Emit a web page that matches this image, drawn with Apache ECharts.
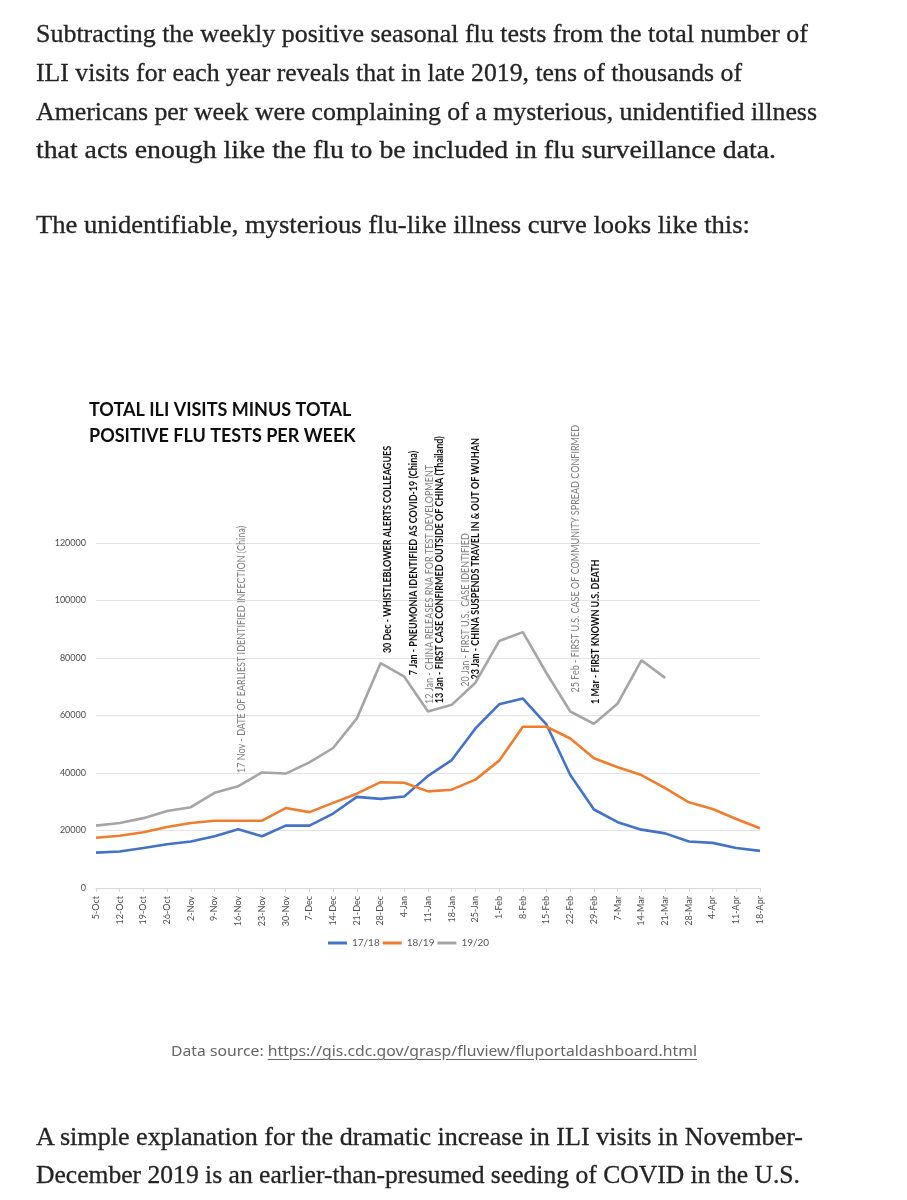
<!DOCTYPE html>
<html>
<head>
<meta charset="utf-8">
<script src="https://cdn.jsdelivr.net/npm/echarts@6/dist/echarts.min.js"></script>
<style>
  html, body { margin: 0; padding: 0; background: #ffffff; }
  #page { position: relative; width: 907px; height: 1200px; overflow: hidden; background: #fff; }
  #chart { position: absolute; left: 0; top: 0; width: 907px; height: 1200px; }
  .line { position: absolute; white-space: nowrap; line-height: 1; transform-origin: 0 0; }
  .prose { font-family: "Liberation Serif", serif; font-size: 25px; color: #242424; -webkit-text-stroke: 0.3px #242424; }
  .cap { font-family: "Noto Sans", "Open Sans", sans-serif; font-size: 15px; color: #666666; }
  .cap a { color: #666666; text-decoration: underline; text-underline-offset: 3px; }
</style>
</head>
<body>
<div id="page">
  <div id="chart"></div>
</div>
<script>
// ---- data ----
const categories = ['5-Oct','12-Oct','19-Oct','26-Oct','2-Nov','9-Nov','16-Nov','23-Nov','30-Nov','7-Dec','14-Dec','21-Dec','28-Dec','4-Jan','11-Jan','18-Jan','25-Jan','1-Feb','8-Feb','15-Feb','22-Feb','29-Feb','7-Mar','14-Mar','21-Mar','28-Mar','4-Apr','11-Apr','18-Apr'];
const s1718 = [12300,12700,13900,15200,16200,18000,20400,18000,21700,21700,25900,31700,31000,31800,39000,44500,55500,63900,65900,56800,39300,27300,22900,20300,19000,16200,15700,13900,12900];
const s1819 = [17500,18200,19400,21200,22600,23400,23400,23400,27800,26400,29600,32800,36800,36600,33600,34200,37700,44300,56100,56100,52000,45100,42000,39300,34700,29800,27500,24000,20800];
const s1920 = [21700,22600,24300,26800,28100,33100,35400,40200,39800,43700,48700,59000,78200,73500,61400,63700,71400,85900,89000,74700,61400,57100,64200,79200,73100,null,null,null,null];
const seriesNames = ['17/18','18/19','19/20'];
const yTicks = [0,20000,40000,60000,80000,100000,120000];
const titleLines = ['TOTAL ILI VISITS MINUS TOTAL','POSITIVE FLU TESTS PER WEEK'];
const annotationTexts = [
  '17 Nov - DATE OF EARLIEST IDENTIFIED INFECTION (China)',
  '30 Dec - WHISTLEBLOWER ALERTS COLLEAGUES',
  '7 Jan - PNEUMONIA IDENTIFIED AS COVID-19 (China)',
  '12 Jan - CHINA RELEASES RNA FOR TEST DEVELOPMENT',
  '13 Jan - FIRST CASE CONFIRMED OUTSIDE OF CHINA (Thailand)',
  '20 Jan - FIRST U.S.  CASE IDENTIFIED',
  '23 Jan - CHINA SUSPENDS TRAVEL IN & OUT OF WUHAN',
  '25 Feb - FIRST U.S. CASE OF COMMUNITY SPREAD CONFIRMED',
  '1 Mar - FIRST KNOWN U.S. DEATH'
];
// annotation placement: fractional category index, anchor value (start of text), bold
const annotationLayout = [
  [6.14, 40000, false],
  [12.28, 81700, true],
  [13.38, 74000, true],
  [14.05, 64000, false],
  [14.47, 64300, true],
  [15.57, 70000, false],
  [15.99, 72500, true],
  [20.2, 68000, false],
  [21.05, 64000, true]
];

// ---- prose ----
const proseLines = [
  ['Subtracting the weekly positive seasonal flu tests from the total number of', 36, 42, 808],
  ['ILI visits for each year reveals that in late 2019, tens of thousands of', 36, 81, 742],
  ['Americans per week were complaining of a mysterious, unidentified illness', 36, 120, 817],
  ['that acts enough like the flu to be included in flu surveillance data.', 36, 158, 776],
  ['The unidentifiable, mysterious flu-like illness curve looks like this:', 36, 233, 750],
  ['A simple explanation for the dramatic increase in ILI visits in November-', 36, 1145, 803],
  ['December 2019 is an earlier-than-presumed seeding of COVID in the U.S.', 36, 1183, 800]
];
const page = document.getElementById('page');
function placeLine(html, cls, left, baseline, right, fs, ascK) {
  const d = document.createElement('div');
  d.className = 'line ' + cls;
  d.innerHTML = html;
  d.style.left = left + 'px';
  d.style.top = (baseline - ascK * fs) + 'px';
  page.appendChild(d);
  const w = d.getBoundingClientRect().width;
  d.style.transform = 'scaleX(' + ((right - left) / w) + ')';
}
proseLines.forEach(l => placeLine(l[0].replace(/&/g,'&amp;'), 'prose', l[1], l[2], l[3], 25, 0.8375));
placeLine('Data source: <a>https://gis.cdc.gov/grasp/fluview/fluportaldashboard.html</a>', 'cap', 171, 1057, 697, 15, 0.93);

// ---- chart ----
const chart = echarts.init(document.getElementById('chart'), null, { renderer: 'canvas' });
const colors = ['#4472C4', '#ED7D31', '#A5A5A5'];
const option = {
  animation: false,
  backgroundColor: 'transparent',
  title: {
    text: titleLines.join('\n'),
    left: 84, top: 392,
    textStyle: { fontFamily: 'Lato', fontWeight: 'bold', fontSize: 18, lineHeight: 26, color: '#0d0d0d' }
  },
  grid: { left: 96, right: 147, top: 543, bottom: 312, containLabel: false },
  legend: {
    data: seriesNames,
    left: 323, top: 933,
    icon: 'rect', itemWidth: 19, itemHeight: 3, itemGap: 3,
    textStyle: { fontFamily: 'Lato', fontSize: 10, color: '#595959' }
  },
  xAxis: {
    type: 'category', data: categories, boundaryGap: false,
    axisLine: { lineStyle: { color: '#d9d9d9', width: 1 } },
    axisTick: { show: true, length: 4, lineStyle: { color: '#d9d9d9' } },
    axisLabel: { rotate: 90, interval: 0, margin: 8, fontFamily: 'Lato', fontSize: 9, color: '#4d4d4d' }
  },
  yAxis: {
    type: 'value', min: yTicks[0], max: yTicks[yTicks.length - 1], interval: yTicks[1] - yTicks[0],
    axisLine: { show: false }, axisTick: { show: false },
    splitLine: { lineStyle: { color: '#e3e3e3', width: 1 } },
    axisLabel: { margin: 10, fontFamily: 'Lato', fontSize: 9, color: '#4d4d4d', formatter: v => String(v) }
  },
  series: [s1718, s1819, s1920].map((d, i) => ({
    name: seriesNames[i], type: 'line', data: d, symbol: 'none', smooth: false,
    connectNulls: false,
    lineStyle: { color: colors[i], width: 2.6 }, itemStyle: { color: colors[i] }
  }))
};
chart.setOption(option);

// annotations anchored through the axes
const x0 = chart.convertToPixel({ xAxisIndex: 0 }, categories[0]);
const x1 = chart.convertToPixel({ xAxisIndex: 0 }, categories[1]);
const step = x1 - x0;
const graphics = annotationTexts.map((t, i) => {
  const [at, val, bold] = annotationLayout[i];
  return {
    type: 'text',
    x: x0 + at * step,
    y: chart.convertToPixel({ yAxisIndex: 0 }, val),
    rotation: Math.PI / 2,
    scaleX: 0.82,
    style: {
      text: t,
      align: 'left', verticalAlign: 'middle',
      font: (bold ? 'bold ' : '') + '11px Lato',
      fill: bold ? '#0d0d0d' : '#7f7f7f'
    }
  };
});
chart.setOption({ graphic: graphics });
</script>
</body>
</html>
